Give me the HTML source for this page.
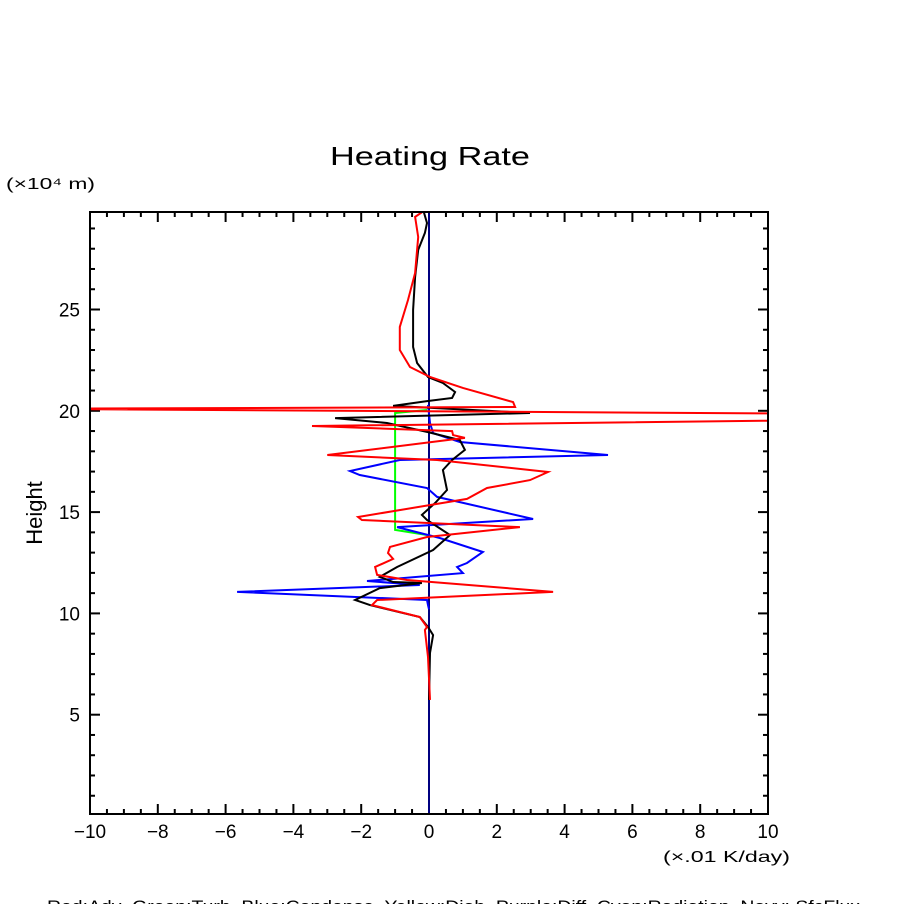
<!DOCTYPE html>
<html><head><meta charset="utf-8"><style>
html,body{margin:0;padding:0;background:#fff;width:904px;height:904px;overflow:hidden}
svg text{font-family:"Liberation Sans","DejaVu Sans",sans-serif;fill:#000}
</style></head><body>
<svg id="chart" width="904" height="904" viewBox="0 0 904 904" xmlns="http://www.w3.org/2000/svg">
<text x="330" y="165" font-size="26" textLength="200" lengthAdjust="spacingAndGlyphs">Heating Rate</text>
<text x="6" y="189" font-size="16" textLength="89" lengthAdjust="spacingAndGlyphs">(×10⁴ m)</text>
<text x="42" y="513" font-size="22" text-anchor="middle" transform="rotate(-90 42 513)">Height</text>
<text x="663" y="862" font-size="16" textLength="127" lengthAdjust="spacingAndGlyphs">(×.01 K/day)</text>
<text x="47" y="912" font-size="17" textLength="813" lengthAdjust="spacingAndGlyphs" xml:space="preserve">Red:Adv  Green:Turb  Blue:Condense  Yellow:Diab  Purple:Diff  Cyan:Radiation  Navy: SfcFlux</text>
<defs><clipPath id="plotclip"><rect x="90" y="212" width="678" height="602"/></clipPath></defs>
<g id="ticks"></g>
<g id="series" clip-path="url(#plotclip)"></g>
<rect x="90" y="212" width="678" height="602" fill="none" stroke="#000" stroke-width="2"/>
</svg>
<script>
const xTicks=[-10,-8,-6,-4,-2,0,2,4,6,8,10];
const yTicks=[5,10,15,20,25];
const blackX=[-0.15,-0.06,-0.12,-0.32,-0.41,-0.47,-0.47,-0.35,-0.03,0.41,0.77,0.68,-0.06,-1.06,2.98,-2.77,-1.24,-0.03,0.91,1.06,0.68,0.41,0.53,0.18,-0.21,-0.06,0.62,0.12,-0.94,-1.45,-1.06,-0.21,-1.45,-2.18,-1.74,-0.27,-0.03,0.12,0.03,0];
const blackH=[29.8,29.27,28.78,27.94,26.6,24.98,23.15,22.36,21.67,21.37,20.93,20.63,20.48,20.24,19.89,19.64,19.4,18.95,18.56,18.07,17.57,17.08,16.09,15.45,14.86,14.61,13.87,13.13,12.29,11.8,11.55,11.5,11.25,10.66,10.41,9.82,9.33,8.93,8.05,5.73];
const redX=[-0.21,-0.41,-0.32,-0.41,-0.62,-0.86,-0.86,-0.56,0.03,1.0,2.48,2.54,-12,12,12,-3.45,0.68,0.71,1.06,-3.0,0.24,3.51,2.98,1.71,1.12,-2.09,-1.98,2.68,-0.06,-1.15,-1.21,-1.06,-1.59,-1.53,-0.65,3.66,-1.53,-1.68,-0.27,-0.06,-0.12,-0.03,0.03];
const redH=[29.8,29.57,28.58,26.8,25.47,24.14,23.0,22.16,21.67,21.13,20.43,20.19,20.1,19.85,19.55,19.25,19.0,18.8,18.66,17.82,17.57,16.98,16.58,16.19,15.65,14.76,14.61,14.26,13.77,13.28,12.98,12.69,12.29,11.9,11.65,11.06,10.66,10.41,9.82,9.33,9.18,7.85,5.73];
const blueX=[-0.03,0.03,0.12,0.91,5.28,-0.86,-2.33,-2.04,-0.06,0.24,3.07,-0.94,0.32,1.59,1.12,0.83,1.0,-1.83,-0.27,-5.66,-0.06,-0.03,0];
const blueH=[20.29,19.4,18.9,18.46,17.82,17.57,17.03,16.83,16.19,15.75,14.66,14.26,13.72,13.03,12.49,12.29,11.99,11.6,11.4,11.06,10.66,10.41,10.2];
const greenX=[-0.06,-1.0,-1.0,-0.06];
const greenH=[20.04,19.89,14.12,13.87];
const navyX=[0,0];
const navyH=[29.9,0];

const NS="http://www.w3.org/2000/svg";
function sx(v){return 90+(v+10)*33.9;}
function sy(h){return 816-h*20.26;}
const tg=document.getElementById('ticks');
function line(x1,y1,x2,y2){const l=document.createElementNS(NS,'line');l.setAttribute('x1',x1);l.setAttribute('y1',y1);l.setAttribute('x2',x2);l.setAttribute('y2',y2);l.setAttribute('stroke','#000');l.setAttribute('stroke-width','2');tg.appendChild(l);return l;}
for(let v=-10;v<=10.001;v+=0.5){
  const major=Math.abs(v%2)<1e-6;const len=major?10:5;const x=sx(v);
  const a=line(x,814,x,814-len);
  
  
  const b=line(x,212,x,212+len);
  
  
}
for(let h=1;h<=29;h++){
  const major=h%5===0;const len=major?10:5;const y=sy(h);
  const a=line(90,y,90+len,y);
  
  
  const b=line(768,y,768-len,y);
  
  
}
xTicks.forEach(v=>{
  const t=document.createElementNS(NS,'text');
  t.setAttribute('x',sx(v));t.setAttribute('y',838);t.setAttribute('font-size','19');t.setAttribute('text-anchor','middle');
  t.textContent=(v<0?'\u2212'+(-v):String(v));
  
  
  tg.appendChild(t);
});
yTicks.forEach(h=>{
  const t=document.createElementNS(NS,'text');
  t.setAttribute('x',80);t.setAttribute('y',sy(h)+7);t.setAttribute('font-size','19');t.setAttribute('text-anchor','end');
  t.textContent=String(h);
  
  
  tg.appendChild(t);
});
const sg=document.getElementById('series');
function draw(xs,hs,color,name){
  const p=document.createElementNS(NS,'polyline');
  p.setAttribute('points',xs.map((v,i)=>sx(v).toFixed(1)+','+sy(hs[i]).toFixed(1)).join(' '));
  p.setAttribute('fill','none');p.setAttribute('stroke',color);p.setAttribute('stroke-width','2');
  
  
  sg.appendChild(p);
}
draw(navyX,navyH,'#000080','navy-sfcflux-line');
draw(greenX,greenH,'#00ff00','green-turb-line');
draw(blueX,blueH,'#0000ff','blue-condense-line');
draw(blackX,blackH,'#000000','black-total-line');
draw(redX,redH,'#ff0000','red-adv-line');
</script>
</body></html>
